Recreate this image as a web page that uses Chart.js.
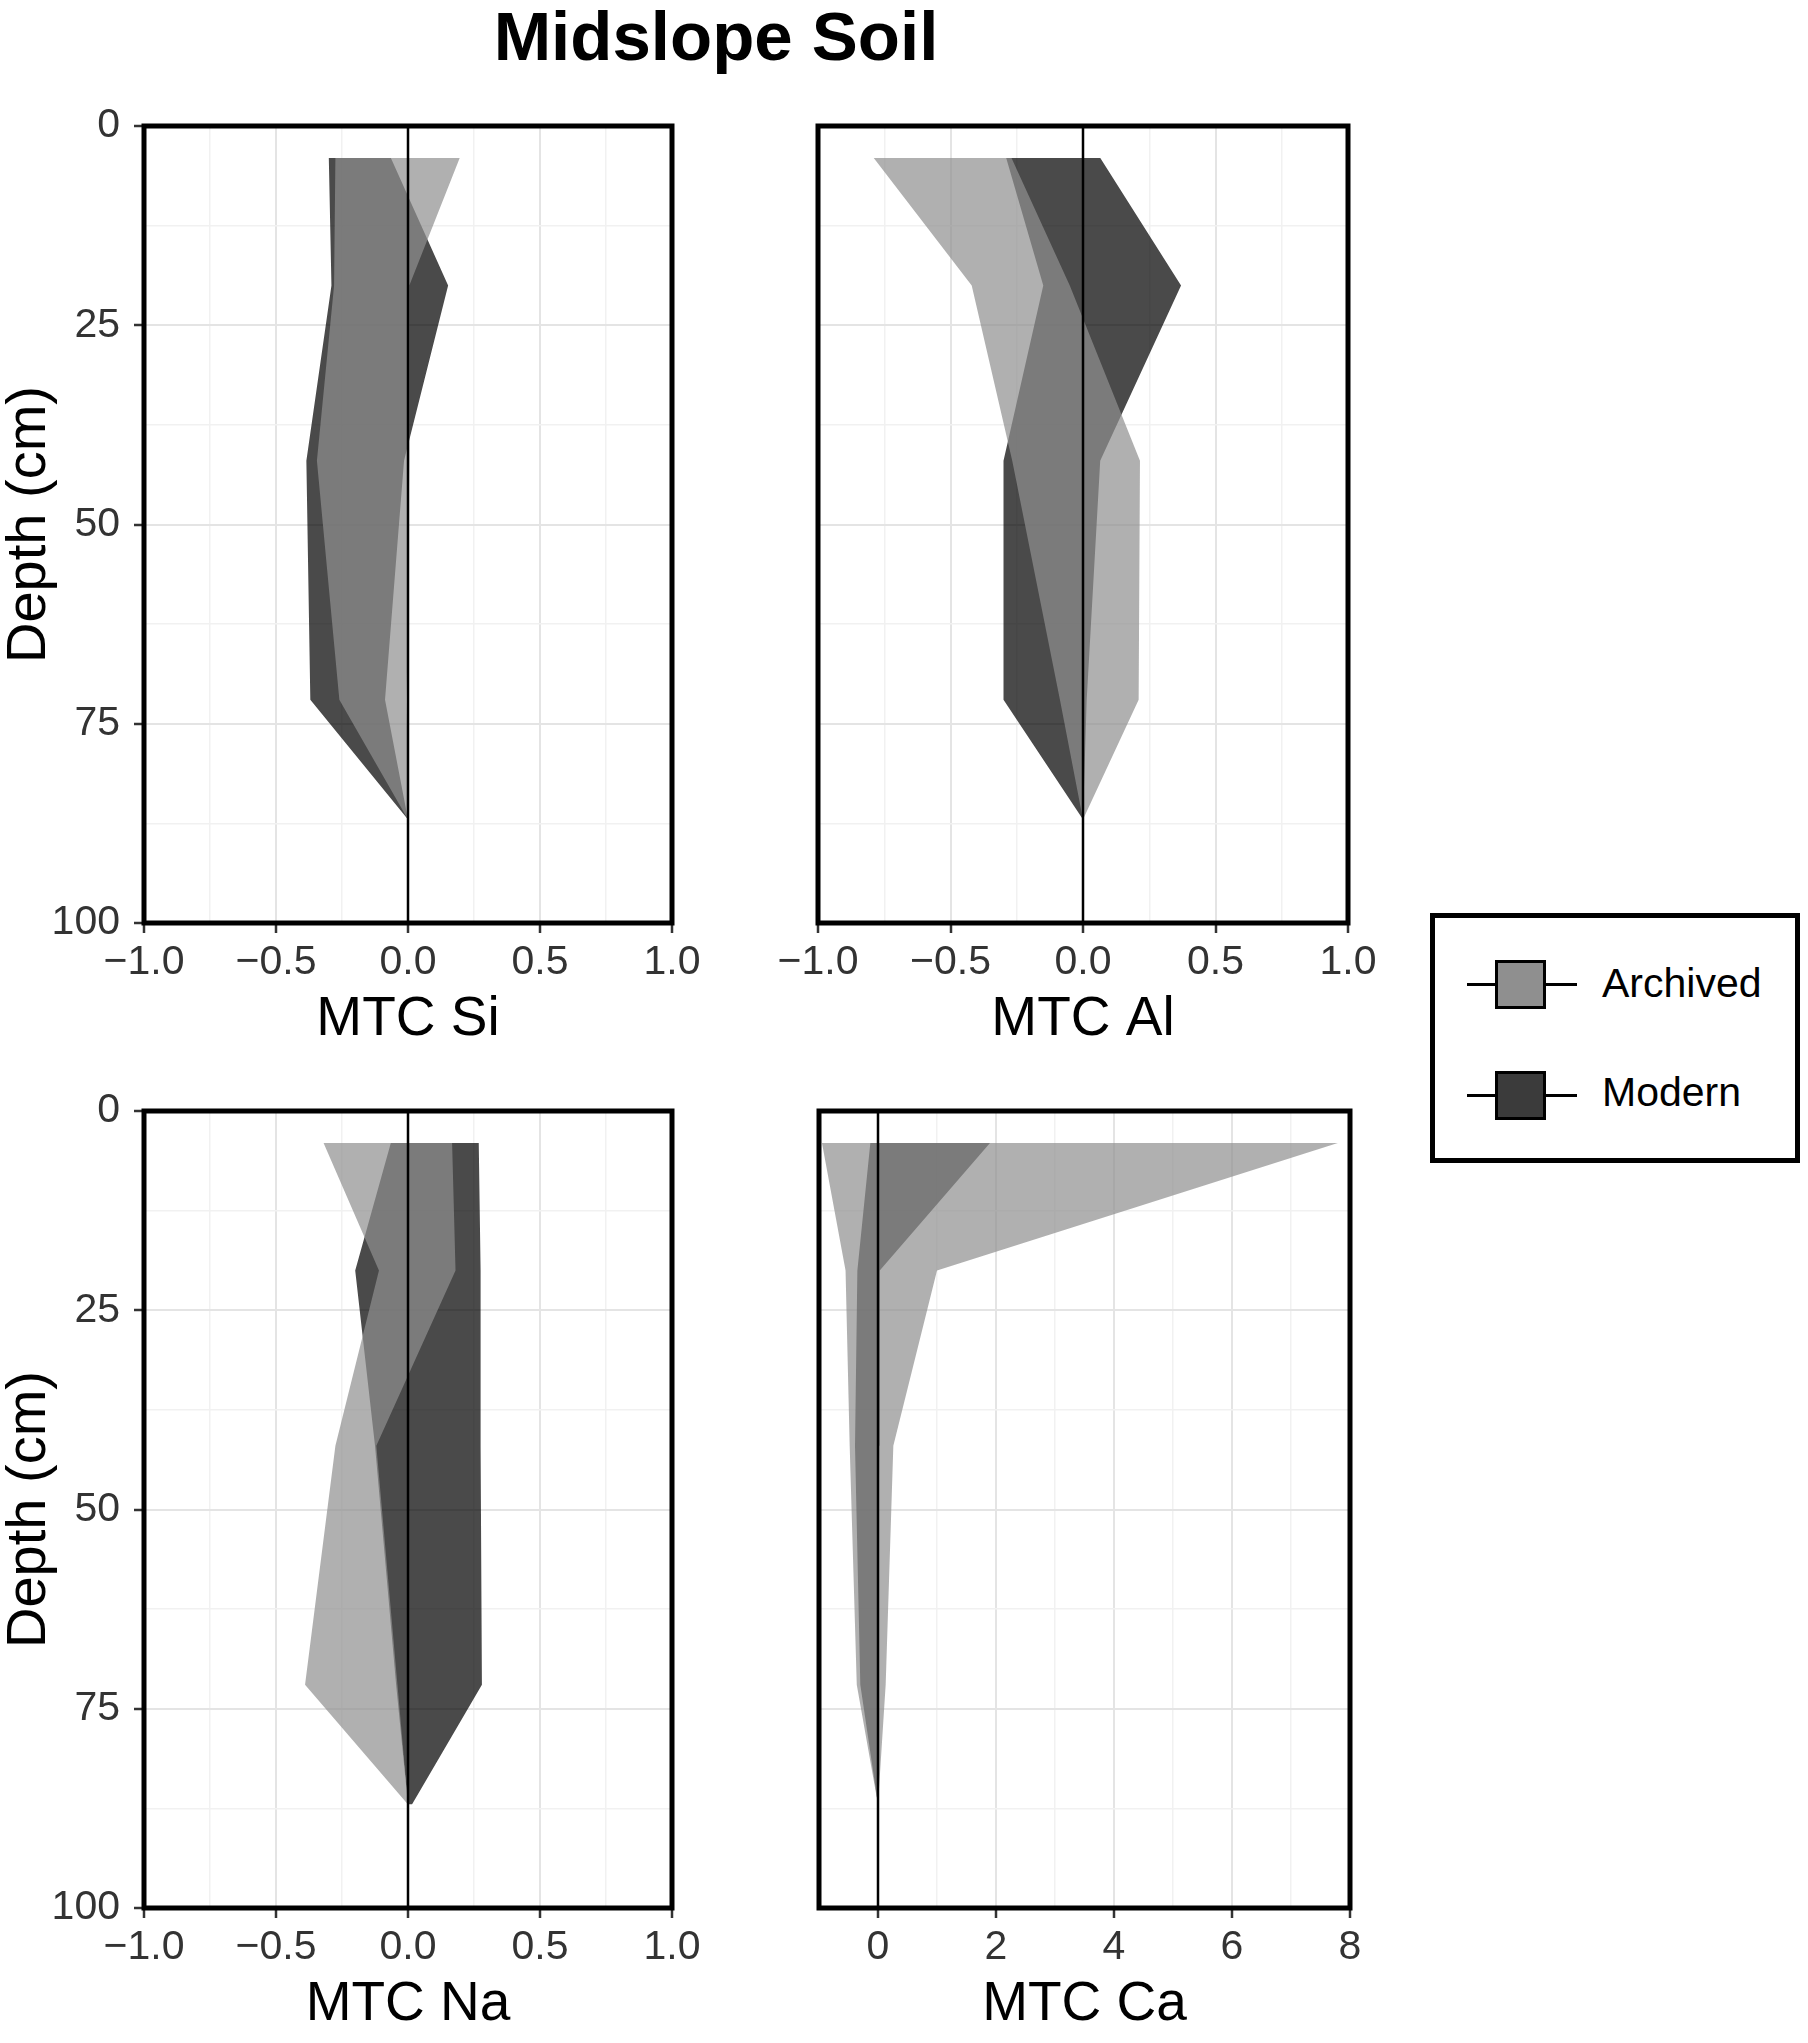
<!DOCTYPE html>
<html>
<head>
<meta charset="utf-8">
<script src="https://cdn.jsdelivr.net/npm/chart.js@4.4.1/dist/chart.umd.min.js"></script>
<style>
  body { margin: 0; background: #fff; width: 1808px; height: 2043px; position: relative; overflow: hidden;
         font-family: "Liberation Sans", Arial, sans-serif; }
  canvas { position: absolute; }
  #title { position: absolute; left: 0; top: 2px; width: 1432px; text-align: center;
           font-weight: bold; font-size: 69px; line-height: 69px; color: #000; }
  #legend { position: absolute; left: 1430px; top: 913px; width: 370px; height: 250px;
            border: 5px solid #000; box-sizing: border-box; }
  .keyline { position: absolute; left: 1467px; width: 110px; height: 3.5px; background: #000; }
  .keybox { position: absolute; left: 1495px; width: 51px; height: 49px; border: 3.5px solid #000; box-sizing: border-box; }
  .keytext { position: absolute; left: 1602px; font-size: 41px; line-height: 41px; color: #000; }
</style>
</head>
<body>
<div id="title">Midslope Soil</div>

<canvas id="si" width="720" height="982" style="left:0px;top:76px"></canvas>
<canvas id="al" width="640" height="982" style="left:760px;top:76px"></canvas>
<canvas id="na" width="720" height="982" style="left:0px;top:1061px"></canvas>
<canvas id="ca" width="640" height="982" style="left:760px;top:1061px"></canvas>

<div id="legend"></div>
<div class="keyline" style="top:982.5px"></div>
<div class="keybox" style="top:960px;background:#8f8f8f"></div>
<div class="keytext" style="top:963px">Archived</div>
<div class="keyline" style="top:1093.5px"></div>
<div class="keybox" style="top:1071px;background:#3b3b3b"></div>
<div class="keytext" style="top:1072px">Modern</div>

<script>
// sampling depths (cm)
var depths = [4, 20, 42, 72, 87];

// MTC ranges (min / max) per depth
var siArchivedMin = [-0.275, -0.28, -0.345, -0.26, 0];
var siArchivedMax = [0.196, 0.005, 0.005, -0.005, 0];
var siModernMin = [-0.30, -0.29, -0.385, -0.37, 0];
var siModernMax = [-0.065, 0.152, -0.015, -0.087, 0];

var alArchivedMin = [-0.79, -0.42, -0.267, -0.087, 0];
var alArchivedMax = [-0.27, -0.05, 0.215, 0.21, 0];
var alModernMin = [-0.29, -0.15, -0.30, -0.30, 0];
var alModernMax = [0.065, 0.37, 0.065, 0.014, 0];

var naArchivedMin = [-0.32, -0.11, -0.275, -0.39, 0];
var naArchivedMax = [0.167, 0.18, -0.12, -0.04, 0];
var naModernMin = [-0.065, -0.20, -0.125, -0.045, 0.0];
var naModernMax = [0.268, 0.275, 0.275, 0.28, 0.015];

var caArchivedMin = [-0.95, -0.55, -0.48, -0.36, 0];
var caArchivedMax = [7.8, 1.0, 0.26, 0.13, 0];
var caModernMin = [-0.13, -0.35, -0.39, -0.30, 0];
var caModernMax = [1.9, 0.03, 0.02, 0.0, 0];

// tick labels
var depthTicks = [0, 25, 50, 75, 100];
var mtcTicks = [-1.0, -0.5, 0.0, 0.5, 1.0];
var caTicks = [0, 2, 4, 6, 8];

var FONT = "'Liberation Sans', Arial, sans-serif";
var archivedFill = 'rgba(143,143,143,0.71)';
var modernFill = 'rgba(0,0,0,0.71)';

var panelBox = {
  id: 'panelBox',
  afterDraw: function(chart) {
    var a = chart.chartArea, c = chart.ctx;
    c.save();
    c.strokeStyle = '#000';
    c.lineWidth = 5;
    c.strokeRect(a.left, a.top, a.right - a.left, a.bottom - a.top);
    c.restore();
  }
};

function isTick(list, v) {
  return list.some(function(t) { return Math.abs(t - v) < 1e-6; });
}

function pts(vals) {
  return depths.map(function(d, i) { return {x: vals[i], y: d}; });
}

function profilePanel(id, o) {
  var ctx = document.getElementById(id).getContext('2d');
  return new Chart(ctx, {
    type: 'line',
    data: {
      datasets: [
        {label: 'zero', data: [{x: 0, y: 0}, {x: 0, y: 100}], borderColor: '#000', borderWidth: 2.5,
         pointRadius: 0, fill: false},
        {label: 'Archived', data: pts(o.archivedMin), borderColor: 'rgba(0,0,0,0)', borderWidth: 1,
         backgroundColor: archivedFill, fill: '+1', pointRadius: 0},
        {label: 'Archived max', data: pts(o.archivedMax), borderColor: 'rgba(0,0,0,0)', borderWidth: 1,
         pointRadius: 0, fill: false},
        {label: 'Modern', data: pts(o.modernMin), borderColor: 'rgba(0,0,0,0)', borderWidth: 1,
         backgroundColor: modernFill, fill: '+1', pointRadius: 0},
        {label: 'Modern max', data: pts(o.modernMax), borderColor: 'rgba(0,0,0,0)', borderWidth: 1,
         pointRadius: 0, fill: false}
      ]
    },
    options: {
      responsive: false,
      animation: false,
      indexAxis: 'y',
      layout: {padding: {top: 50, right: o.padRight, left: 0, bottom: 0}},
      plugins: {legend: {display: false}, tooltip: {enabled: false}},
      scales: {
        x: {
          type: 'linear',
          position: 'bottom',
          min: o.xmin,
          max: o.xmax,
          afterFit: function(s) { s.height = 135; },
          border: {display: false},
          grid: {
            color: function(c) { return isTick(o.xTicks, c.tick.value) ? '#e4e4e4' : '#f1f1f1'; },
            lineWidth: function(c) { return isTick(o.xTicks, c.tick.value) ? 2 : 1.5; },
            tickColor: function(c) { return isTick(o.xTicks, c.tick.value) ? '#333' : 'rgba(0,0,0,0)'; },
            tickWidth: 2.5,
            tickLength: 10
          },
          ticks: {
            stepSize: o.xStep,
            autoSkip: false,
            maxRotation: 0,
            padding: 5,
            color: '#333',
            font: {family: FONT, size: 41},
            callback: function(v) {
              if (!isTick(o.xTicks, v)) return '';
              return o.fmt(v);
            }
          },
          title: {
            display: true,
            text: o.title,
            color: '#000',
            font: {family: FONT, size: 55, lineHeight: 1},
            padding: {top: 0, bottom: 10.5}
          }
        },
        y: {
          type: 'linear',
          reverse: true,
          min: 0,
          max: 100,
          afterFit: function(s) { s.width = o.yWidth; },
          border: {display: false},
          grid: {
            color: function(c) { return isTick(depthTicks, c.tick.value) ? '#e4e4e4' : '#f1f1f1'; },
            lineWidth: function(c) { return isTick(depthTicks, c.tick.value) ? 2 : 1.5; },
            tickColor: function(c) { return isTick(depthTicks, c.tick.value) ? '#333' : 'rgba(0,0,0,0)'; },
            tickWidth: 2.5,
            tickLength: 10,
            drawTicks: o.showY
          },
          ticks: {
            display: o.showY,
            stepSize: 12.5,
            autoSkip: false,
            padding: 14,
            color: '#333',
            font: {family: FONT, size: 41},
            callback: function(v) { return isTick(depthTicks, v) ? String(v) : ''; }
          },
          title: {
            display: o.showY,
            text: 'Depth (cm)',
            color: '#000',
            font: {family: FONT, size: 56, lineHeight: 1},
            padding: {top: 2, bottom: 0}
          }
        }
      }
    },
    plugins: [panelBox]
  });
}

function fmtOne(v) { return v.toFixed(1).replace('-', '\u2212'); }
function fmtInt(v) { return String(Math.round(v)); }

profilePanel('si', {title: 'MTC Si', xmin: -1, xmax: 1, xStep: 0.25, xTicks: mtcTicks, fmt: fmtOne,
  showY: true, yWidth: 144, padRight: 48,
  archivedMin: siArchivedMin, archivedMax: siArchivedMax, modernMin: siModernMin, modernMax: siModernMax});

profilePanel('al', {title: 'MTC Al', xmin: -1, xmax: 1, xStep: 0.25, xTicks: mtcTicks, fmt: fmtOne,
  showY: false, yWidth: 58, padRight: 52,
  archivedMin: alArchivedMin, archivedMax: alArchivedMax, modernMin: alModernMin, modernMax: alModernMax});

profilePanel('na', {title: 'MTC Na', xmin: -1, xmax: 1, xStep: 0.25, xTicks: mtcTicks, fmt: fmtOne,
  showY: true, yWidth: 144, padRight: 48,
  archivedMin: naArchivedMin, archivedMax: naArchivedMax, modernMin: naModernMin, modernMax: naModernMax});

profilePanel('ca', {title: 'MTC Ca', xmin: -1, xmax: 8, xStep: 1, xTicks: caTicks, fmt: fmtInt,
  showY: false, yWidth: 59, padRight: 50,
  archivedMin: caArchivedMin, archivedMax: caArchivedMax, modernMin: caModernMin, modernMax: caModernMax});
</script>
</body>
</html>
